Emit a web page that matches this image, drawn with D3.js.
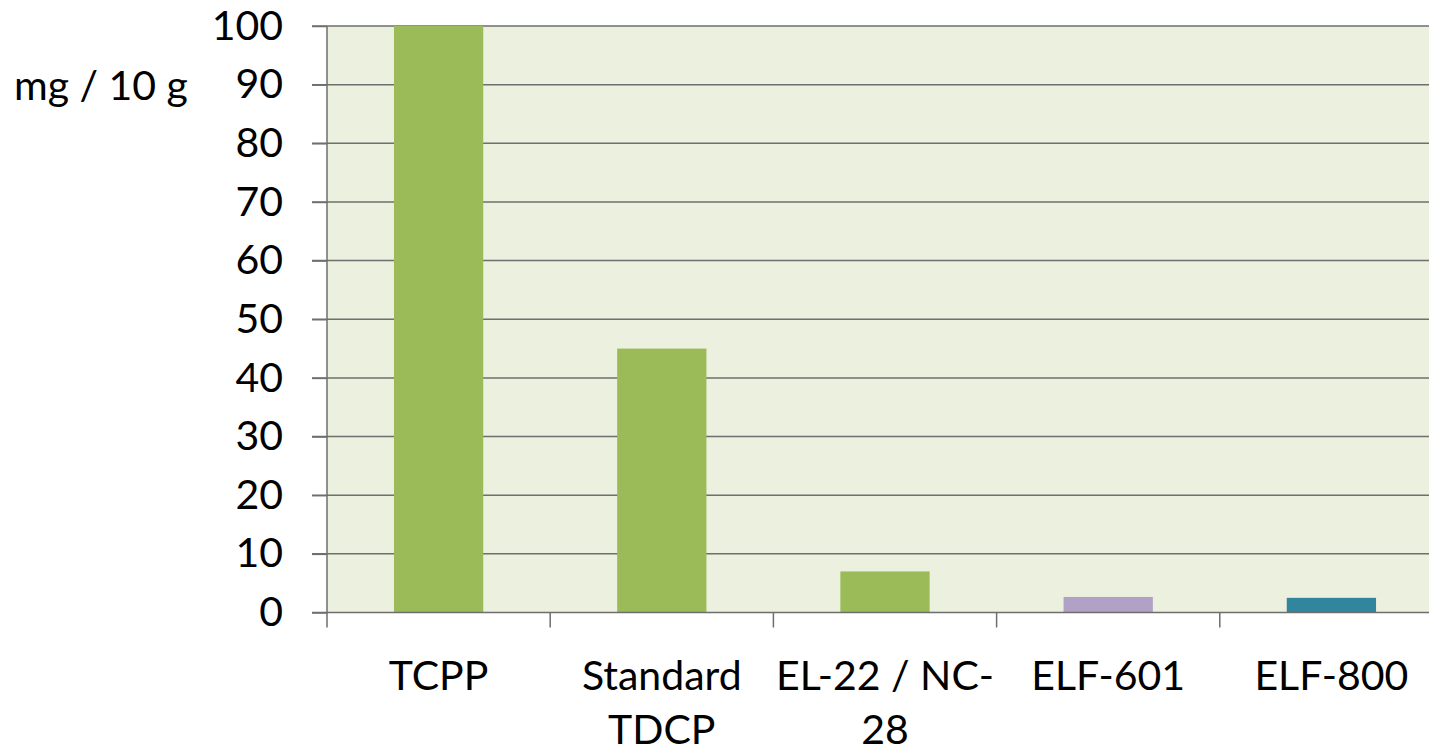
<!DOCTYPE html>
<meta charset="utf-8">
<style>
body { margin: 0; background: #fff; }
text { font-family: Lato, "Open Sans", sans-serif; fill: #000; }
</style>
<svg width="1429" height="751"></svg>
<script src="https://d3js.org/d3.v7.min.js"></script>
<script>
var categories = [["TCPP"], ["Standard", "TDCP"], ["EL-22 / NC-", "28"], ["ELF-601"], ["ELF-800"]];
var values = [100, 45, 7, 2.65, 2.5];
var barColors = ["#9bbb59", "#9bbb59", "#9bbb59", "#b2a1c7", "#31859c"];
var yTicks = [0, 10, 20, 30, 40, 50, 60, 70, 80, 90, 100];

var svg = d3.select("svg");
var plotLeft = 327, plotTop = 26, plotBottom = 612.5, bandW = 223.2;
var fontSize = 41;

var x = d3.scaleBand()
    .domain(d3.range(categories.length))
    .range([plotLeft, plotLeft + bandW * categories.length])
    .paddingInner(0.6).paddingOuter(0.3);

var y = d3.scaleLinear().domain([0, 100]).range([plotBottom, plotTop]);

// plot background
svg.append("rect")
    .attr("x", plotLeft).attr("y", plotTop)
    .attr("width", bandW * categories.length).attr("height", plotBottom - plotTop)
    .attr("fill", "#ebf1de");

// grid lines
svg.append("g").selectAll("line")
    .data(yTicks.slice(1))
    .enter().append("line")
      .attr("x1", plotLeft - 15).attr("x2", 1429)
      .attr("y1", d => y(d)).attr("y2", d => y(d))
      .attr("stroke", "#6e6e6e").attr("stroke-width", 1.5);

// bars
svg.append("g").selectAll("rect")
    .data(values)
    .enter().append("rect")
      .attr("x", (d, i) => x(i))
      .attr("width", x.bandwidth())
      .attr("y", d => y(d))
      .attr("height", d => plotBottom - y(d))
      .attr("fill", (d, i) => barColors[i]);

// y axis
var yAxis = svg.append("g")
    .attr("transform", "translate(" + plotLeft + ",0)")
    .call(d3.axisLeft(y).tickValues(yTicks).tickSize(15).tickPadding(29));
yAxis.selectAll("line, path").attr("stroke", "#6e6e6e").attr("stroke-width", 1.5);
yAxis.select(".domain").attr("d", "M0," + plotTop + "V" + plotBottom);
yAxis.selectAll(".tick text")
    .attr("fill", "#000")
    .attr("font-size", fontSize)
    .attr("font-family", "Lato, 'Open Sans', sans-serif");

// x axis baseline + ticks between categories
var tickXs = d3.range(categories.length + 1).map(i => plotLeft + i * bandW);
svg.append("line")
    .attr("x1", plotLeft - 15).attr("x2", 1429)
    .attr("y1", plotBottom).attr("y2", plotBottom)
    .attr("stroke", "#6e6e6e").attr("stroke-width", 1.5);
svg.append("g").selectAll("line")
    .data(tickXs)
    .enter().append("line")
      .attr("x1", d => d).attr("x2", d => d)
      .attr("y1", plotBottom).attr("y2", plotBottom + 15)
      .attr("stroke", "#6e6e6e").attr("stroke-width", 1.5);

// category labels
var labels = svg.append("g").selectAll("text")
    .data(categories)
    .enter().append("text")
      .attr("text-anchor", "middle")
      .attr("font-size", fontSize)
      .attr("x", (d, i) => x(i) + x.bandwidth() / 2)
      .attr("y", 690);
labels.selectAll("tspan")
    .data(d => d)
    .enter().append("tspan")
      .attr("x", function() { return this.parentNode.getAttribute("x"); })
      .attr("dy", (d, i) => i == 0 ? 0 : 54)
      .text(d => d);

// y axis title
svg.append("text")
    .attr("x", 14).attr("y", 100)
    .attr("font-size", fontSize)
    .text("mg / 10 g");
</script>
